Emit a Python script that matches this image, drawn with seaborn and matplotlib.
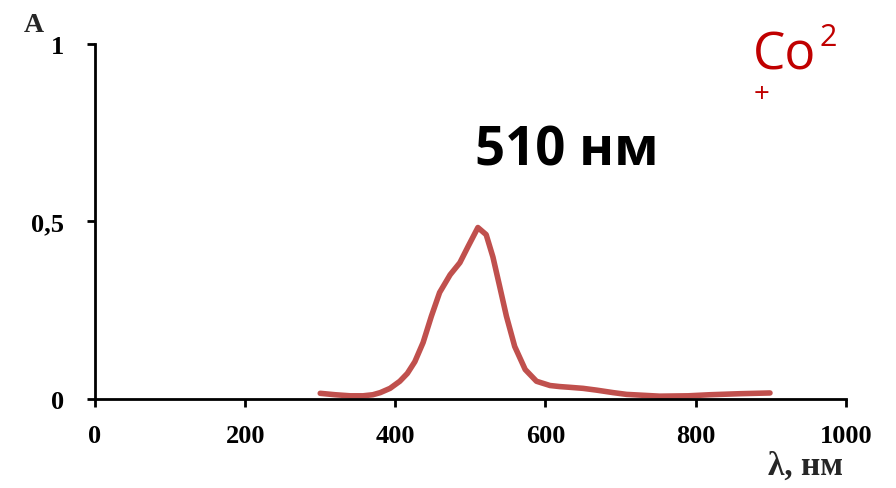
import pandas as pd
import matplotlib.pyplot as plt
import seaborn as sns

# absorption spectrum of Co2+
wavelength = [300, 320, 340, 357, 370, 380, 393, 406, 416, 426, 437, 448, 459, 473,
              486, 497, 510, 521, 530, 539, 548, 559, 573, 588, 606, 619, 632, 650,
              668, 690, 708, 752, 790, 819, 860, 899]
absorbance = [0.016, 0.012, 0.009, 0.009, 0.012, 0.018, 0.030, 0.050, 0.072, 0.105,
              0.159, 0.233, 0.300, 0.350, 0.384, 0.430, 0.483, 0.463, 0.400, 0.317,
              0.233, 0.148, 0.083, 0.050, 0.038, 0.035, 0.033, 0.030, 0.025, 0.018,
              0.013, 0.008, 0.009, 0.012, 0.015, 0.017]
x_ticks = [0, 200, 400, 600, 800, 1000]
y_ticks = [0, 0.5, 1]
y_tick_labels = ['0', '0,5', '1']

spectrum = pd.DataFrame({'wavelength': wavelength, 'absorbance': absorbance})

sns.set_style('ticks')
plt.rcParams['font.family'] = ['Liberation Serif', 'DejaVu Serif']

fig = plt.figure(figsize=(8.96, 4.89), dpi=100)
ax = fig.add_axes([0.106, 0.182, 0.838, 0.726])

sns.lineplot(data=spectrum, x='wavelength', y='absorbance', ax=ax,
             color='#C0504D', linewidth=4, solid_capstyle='round',
             solid_joinstyle='round')

ax.set_xlim(0, 1000)
ax.set_ylim(0, 1)
ax.set_xticks(x_ticks)
ax.set_xticklabels([str(t) for t in x_ticks])
ax.set_yticks(y_ticks)
ax.set_yticklabels(y_tick_labels)
ax.set_xlabel('')
ax.set_ylabel('')
for side in ['top', 'right']:
    ax.spines[side].set_visible(False)
for side in ['left', 'bottom']:
    ax.spines[side].set_linewidth(2)
    ax.spines[side].set_color('black')
ax.tick_params(axis='both', direction='out', length=6, width=2, colors='black',
               labelsize=19)
ax.tick_params(axis='x', pad=12)
ax.tick_params(axis='y', pad=16)
for lbl in ax.get_xticklabels() + ax.get_yticklabels():
    lbl.set_fontweight('bold')

fig.text(0.038, 0.948, 'A', fontsize=20, fontweight='bold', ha='center', va='center')
fig.text(0.941, 0.046, 'λ, нм', fontsize=24, fontweight='bold', ha='right', va='center')

ax.text(628, 0.70, '510 нм', fontsize=38, fontweight='bold', family='Open Sans',
        ha='center', va='center', color='black')

fig.text(0.840, 0.857, 'Co', fontsize=37, family='Open Sans', color='#C00000',
         ha='left', va='baseline')
fig.text(0.915, 0.905, '2', fontsize=22, family='Open Sans', color='#C00000',
         ha='left', va='baseline')
fig.text(0.850, 0.805, '+', fontsize=20, family='Open Sans', color='#C00000',
         ha='center', va='center')

fig.savefig('out.png', dpi=100)
